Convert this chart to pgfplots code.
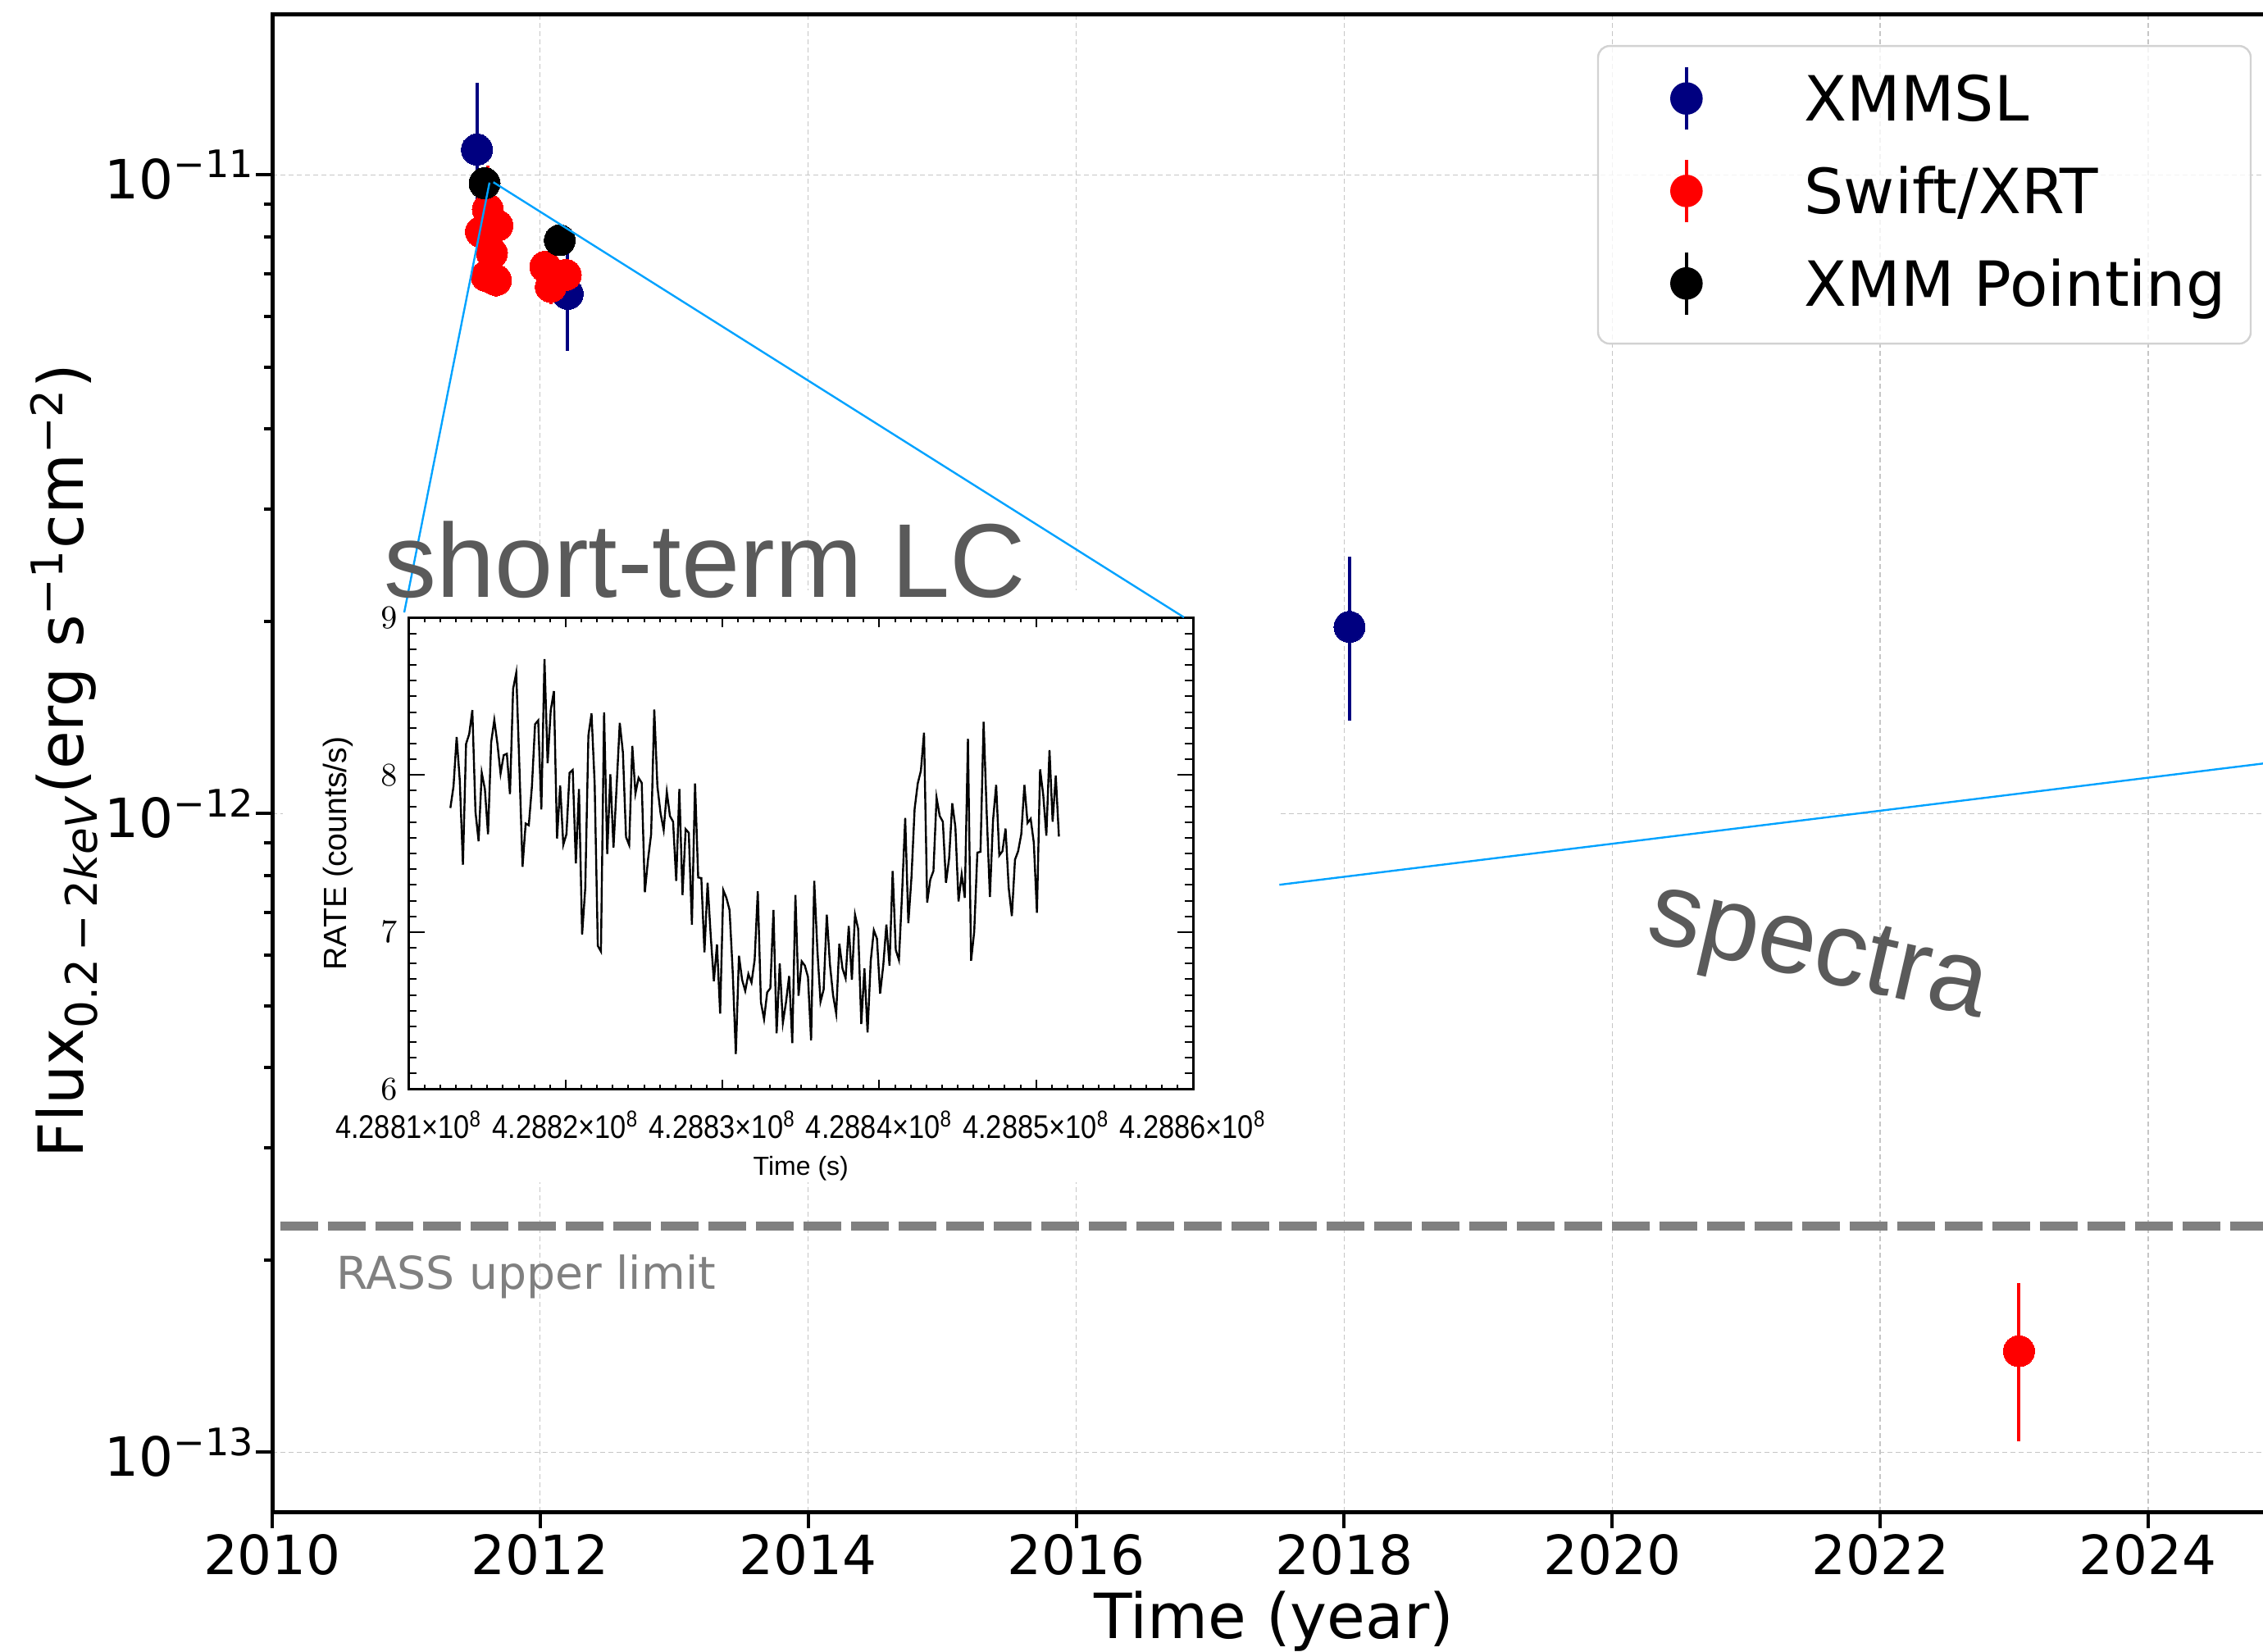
\documentclass[border=0pt]{standalone}
\usepackage{fontspec}
\setmainfont{DejaVu Sans}
\newfontfamily\helv{Liberation Sans}
\newfontfamily\helvn{Liberation Sans}[FakeStretch=0.86]
\usepackage{pgfplots}
\usepackage{pgfplotstable}
\pgfplotsset{compat=1.18}

\definecolor{xnavy}{RGB}{0,0,128}
\definecolor{linkblue}{RGB}{0,162,255}
\definecolor{annogray}{RGB}{90,90,90}
\definecolor{legframe}{RGB}{210,210,210}

% long-term fluxes: decimal year, flux (erg/s/cm^2), 1-sigma error
\pgfplotstableread{
t        f         e
2011.528 1.095e-11 3.0e-12
2012.205 6.51e-12  1.21e-12
2018.040 1.960e-12 5.64e-13
}\xmmsl
\pgfplotstableread{
t        f         e
2011.609 8.83e-12  1.5e-12
2011.558 8.14e-12  4.0e-13
2011.681 8.33e-12  4.0e-13
2011.640 7.54e-12  4.0e-13
2011.599 6.94e-12  4.0e-13
2011.670 6.84e-12  4.0e-13
2012.038 7.18e-12  4.0e-13
2012.191 6.97e-12  4.0e-13
2012.079 6.68e-12  4.0e-13
2023.036 1.44e-13  4.0e-14
}\swift
\pgfplotstableread{
t        f         e
2011.585 9.70e-12  2.0e-13
2012.146 7.90e-12  2.0e-13
}\xmmpoint

% short-term light curve: seconds after 4.2881e8 s, count rate
\pgfplotstableread{
t r
2650 7.790
2850 7.928
3050 8.242
3250 7.964
3450 7.429
3650 8.198
3850 8.260
4050 8.413
4250 7.766
4450 7.578
4650 8.014
4850 7.910
5050 7.623
5250 8.207
5450 8.350
5650 8.198
5850 8.009
6050 8.126
6250 8.135
6450 7.878
6650 8.548
6850 8.650
7050 8.054
7250 7.416
7450 7.691
7650 7.680
7850 7.928
8050 8.323
8250 8.347
8450 7.781
8650 8.737
8850 8.075
9050 8.413
9250 8.534
9450 7.596
9650 7.933
9850 7.556
10050 7.623
10250 8.014
10450 8.032
10650 7.438
10850 7.910
11050 6.985
11250 7.281
11450 8.251
11650 8.392
11850 7.942
12050 6.913
12250 6.877
12450 8.399
12650 7.497
12850 8.004
13050 7.538
13250 7.928
13450 8.332
13650 8.144
13850 7.605
14050 7.554
14250 8.185
14450 7.883
14650 7.982
14850 7.950
15050 7.254
15250 7.461
15450 7.623
15650 8.417
15850 7.928
16050 7.757
16250 7.650
16450 7.892
16650 7.739
16850 7.703
17050 7.326
17250 7.910
17450 7.236
17650 7.655
17850 7.632
18050 7.048
18250 7.946
18450 7.348
18650 7.344
18850 6.872
19050 7.314
19250 6.976
19450 6.688
19650 6.922
19850 6.482
20050 7.267
20250 7.218
20450 7.141
20650 6.751
20850 6.225
21050 6.850
21250 6.697
21450 6.626
21650 6.733
21850 6.679
22050 6.823
22250 7.260
22450 6.554
22650 6.446
22850 6.617
23050 6.643
23250 7.141
23450 6.356
23650 6.800
23850 6.423
24050 6.554
24250 6.721
24450 6.293
24650 7.236
24850 6.595
25050 6.814
25250 6.787
25450 6.715
25650 6.311
25850 7.326
26050 6.886
26250 6.557
26450 6.635
26650 7.111
26850 6.796
27050 6.599
27250 6.482
27450 6.926
27650 6.769
27850 6.706
28050 7.039
28250 6.697
28450 7.111
28650 7.021
28850 6.415
29050 6.769
29250 6.361
29450 6.814
29650 7.012
29850 6.958
30050 6.608
30250 6.787
30450 7.048
30650 6.787
30850 7.389
31050 6.886
31250 6.823
31450 7.245
31650 7.727
31850 7.057
32050 7.350
32250 7.784
32450 7.946
32650 8.027
32850 8.269
33050 7.188
33250 7.335
33450 7.389
33650 7.856
33850 7.739
34050 7.703
34250 7.314
34450 7.470
34650 7.820
34850 7.668
35050 7.195
35250 7.368
35450 7.218
35650 8.230
35850 6.818
36050 7.003
36250 7.506
36450 7.511
36650 8.338
36850 7.748
37050 7.224
37250 7.712
37450 7.937
37650 7.488
37850 7.515
38050 7.659
38250 7.281
38450 7.102
38650 7.461
38850 7.515
39050 7.623
39250 7.937
39450 7.695
39650 7.721
39850 7.569
40050 7.123
40250 8.036
40450 7.874
40650 7.614
40850 8.158
41050 7.703
41250 7.996
41450 7.608
}\lightcurve

% legend symbol: marker with a vertical error bar through it
\pgfplotsset{
  errlegend/.style={legend image code/.code={
      \path[draw=none, fill=none] (-18.15pt,0pt) -- (4.75pt,0pt);
      \draw[#1, line width=1pt, draw opacity=1] (0pt,-9.5pt) -- (0pt,9.5pt);
      \fill[#1, fill opacity=1] (0pt,0pt) circle (4.75pt);
  }},
  fluxpts/.style={only marks, mark=*, mark size=4.75pt, color=#1,
      mark options={fill=#1, draw=#1, line width=0pt}, errlegend=#1},
}

\begin{document}
\begin{tikzpicture}
\begin{axis}[
  at={(83pt,42.5pt)}, anchor=south west,
  scale only axis, width=621pt, height=456.75pt,
  xmin=2010, xmax=2025.2,
  ymode=log, ymin=8.067e-14, ymax=1.785e-11,
  xtick={2010,2012,...,2024},
  minor x tick num=3,
  ytick={1e-13,1e-12,1e-11},
  yticklabels={10\textsuperscript{−13},10\textsuperscript{−12},10\textsuperscript{−11}},
  xtick pos=left, ytick pos=left,
  tick align=outside,
  major tick length=5pt, minor tick length=2.5pt,
  every tick/.style={black, line width=1pt},
  axis line style={line width=1.25pt},
  grid=major,
  major grid style={gray!45, line width=0.3pt, dash pattern=on 1.5pt off 1pt},
  /pgf/number format/1000 sep={},
  /pgf/number format/assume math mode=true,
  ticklabel style={font=\fontsize{16.5}{19.8}\selectfont},
  xticklabel style={yshift=1.75pt},
  yticklabel style={xshift=3.3pt},
  xlabel={Time (year)},
  xlabel style={at={(axis description cs:0.4918,-0.0843)}, anchor=base,
                font=\fontsize{19}{23}\selectfont},
  ylabel={Flux\textsubscript{0.2\,−\,2\textit{keV}}(erg s\textsuperscript{−1}cm\textsuperscript{−2})},
  ylabel style={at={(axis description cs:-0.0926,0.5014)}, anchor=base,
                font=\fontsize{19}{23}\selectfont},
  legend cell align=left,
  legend style={at={(axis description cs:0.65097,0.97865)}, anchor=north west,
    draw=none, fill=none, text opacity=1,
    inner xsep=8.6pt, inner ysep=5.8pt, row sep=8.2pt, column sep=31pt,
    nodes={inner sep=0pt, text height=13.7pt, text depth=0pt,
           font=\fontsize{19}{23}\selectfont}},
]
\addplot[fluxpts=xnavy, error bars/.cd, y dir=both, y explicit, error mark=none,
  error bar style={line width=1pt, xnavy}]
  table[x=t, y=f, y error=e] {\xmmsl};
\addlegendentry{XMMSL}
\addplot[fluxpts=red, error bars/.cd, y dir=both, y explicit, error mark=none,
  error bar style={line width=1pt, red}]
  table[x=t, y=f, y error=e] {\swift};
\addlegendentry{Swift/XRT}
\addplot[fluxpts=black, error bars/.cd, y dir=both, y explicit, error mark=none,
  error bar style={line width=1pt, black}]
  table[x=t, y=f, y error=e] {\xmmpoint};
\addlegendentry{XMM Pointing}
% RASS upper limit
\addplot[gray, line width=2.75pt, dash pattern=on 11.5pt off 3pt, forget plot]
  coordinates {(2010.06,2.26e-13) (2025.2,2.26e-13)};
% legend frame (semi-transparent, rounded)
\filldraw[fill=white, fill opacity=0.8, draw=legframe, draw opacity=1,
          line width=0.6pt, rounded corners=3.5pt]
  (axis description cs:0.65097,0.97865) rectangle (axis description cs:0.97142,0.77997);
\end{axis}

% background panel of the light-curve inset
\fill[white] (86.25pt,143pt) rectangle (390pt,323.5pt);

% inset: short-term light curve (x ticks and data)
\begin{axis}[
  at={(124.65pt,171.35pt)}, anchor=south west,
  scale only axis, width=239.1pt, height=143.75pt,
  xmin=0, xmax=50000, ymin=6, ymax=9,
  xtick={0,10000,...,50000},
  xticklabels={4.2881×10\textsuperscript{8},4.2882×10\textsuperscript{8},4.2883×10\textsuperscript{8},4.2884×10\textsuperscript{8},4.2885×10\textsuperscript{8},4.2886×10\textsuperscript{8}},
  minor x tick num=9,
  ytick={6,7,8,9}, minor y tick num=9,
  tick align=inside,
  major tick length=2.9pt, minor tick length=1.45pt,
  every tick/.style={black, line width=0.5pt},
  ytick style={draw=none},
  axis line style={line width=0.75pt},
  scaled x ticks=false,
  ticklabel style={font=\helvn\fontsize{10}{12}\selectfont},
  xticklabel style={yshift=-3pt},
  xlabel={Time (s)},
  xlabel style={at={(axis description cs:0.5,-0.1816)}, anchor=base,
                font=\helv\fontsize{8}{10}\selectfont},
  ylabel={RATE (counts/s)},
  ylabel style={at={(axis description cs:-0.0801,0.5)}, anchor=base,
                font=\helv\fontsize{9.8}{12}\selectfont},
]
\addplot[black, line width=0.6pt] table[x=t, y=r] {\lightcurve};
\end{axis}
% inset: y ticks (longer, IDL style)
\begin{axis}[
  at={(124.65pt,171.35pt)}, anchor=south west,
  scale only axis, width=239.1pt, height=143.75pt,
  xmin=0, xmax=50000, ymin=6, ymax=9,
  xtick=\empty,
  ytick={6,7,8,9}, yticklabels={,,,}, minor y tick num=9,
  tick align=inside,
  major tick length=4.8pt, minor tick length=2.4pt,
  every tick/.style={black, line width=0.5pt},
  axis line style={line width=0.75pt},
]
\end{axis}

% connectors to the zoom-in panels
\draw[linkblue, line width=0.6pt] (149.25pt,447.83pt) -- (123.25pt,316.75pt);
\draw[linkblue, line width=0.6pt] (150.43pt,447.93pt) -- (361pt,315.25pt);
\draw[linkblue, line width=0.6pt] (390.08pt,233.7pt) -- (700pt,271.9pt);

\node[anchor=base west, inner sep=0pt, text=annogray, font=\helv\fontsize{32}{38}\selectfont]
  at (117pt,321.25pt) {short-term LC};
\node[anchor=base, inner sep=0pt, rotate=-13, text=annogray, font=\helv\fontsize{32}{38}\selectfont]
  at (552.5pt,205pt) {spectra};
\node[anchor=base west, inner sep=0pt, text=gray, font=\fontsize{13.8}{16}\selectfont]
  at (102.5pt,110.5pt) {RASS upper limit};

\pgfresetboundingbox
\path[use as bounding box] (0pt,0pt) rectangle (690pt,503.5pt);
\end{tikzpicture}
\end{document}
